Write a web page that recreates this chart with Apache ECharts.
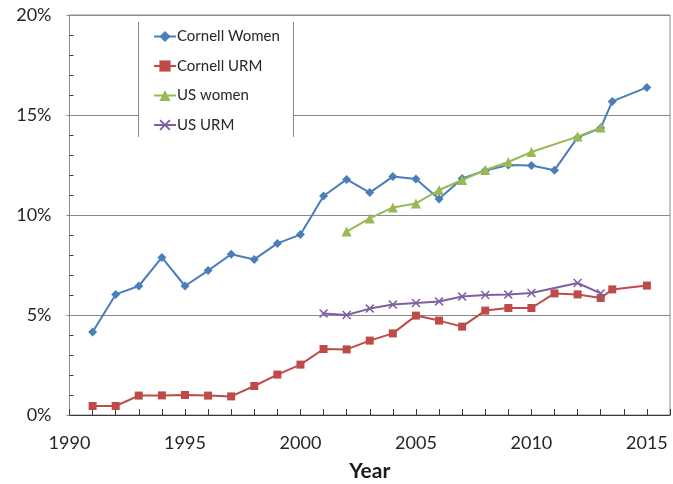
<!DOCTYPE html>
<html>
<head>
<meta charset="utf-8">
<script src="https://cdn.jsdelivr.net/npm/echarts@6/dist/echarts.min.js"></script>
<style>
html,body{margin:0;padding:0;background:#fff;}
#chart{width:673px;height:484px;}
</style>
</head>
<body>
<div id="chart"></div>
<script>
// ---- data ----
const cornellWomenYears = [1991,1992,1993,1994,1995,1996,1997,1998,1999,2000,2001,2002,2003,2004,2005,2006,2007,2008,2009,2010,2011,2012,2013,2013.5,2015];
const cornellWomenVals  = [4.15,6.03,6.45,7.88,6.45,7.22,8.04,7.78,8.58,9.02,10.95,11.78,11.12,11.92,11.8,10.8,11.83,12.22,12.5,12.48,12.24,13.88,14.35,15.68,16.38];

const cornellURMYears = [1991,1992,1993,1994,1995,1996,1997,1998,1999,2000,2001,2002,2003,2004,2005,2006,2007,2008,2009,2010,2011,2012,2013,2013.5,2015];
const cornellURMVals  = [0.45,0.45,0.97,0.98,1.0,0.97,0.93,1.45,2.02,2.52,3.3,3.28,3.72,4.08,4.97,4.72,4.42,5.22,5.35,5.35,6.08,6.03,5.85,6.28,6.47];

const usWomenYears = [2002,2003,2004,2005,2006,2007,2008,2009,2010,2012,2013];
const usWomenVals  = [9.17,9.83,10.38,10.58,11.25,11.75,12.25,12.65,13.15,13.92,14.37];

const usURMYears = [2001,2002,2003,2004,2005,2006,2007,2008,2009,2010,2012,2013];
const usURMVals  = [5.08,5.0,5.32,5.52,5.6,5.68,5.92,6.0,6.02,6.1,6.6,6.08];

const xTickLabels = [1990,1995,2000,2005,2010,2015];
const yTickLabels = [0,5,10,15,20];

const seriesNames = ['Cornell Women','Cornell URM','US women','US URM'];
const seriesColors = ['#4A7EBB','#BE4B48','#98B954','#7D60A0'];

function pairs(xs, ys){ return xs.map((x,i)=>[x, ys[i]]); }

const xMark = 'path://M0,1.2L1.2,0L5,3.8L8.8,0L10,1.2L6.2,5L10,8.8L8.8,10L5,6.2L1.2,10L0,8.8L3.8,5Z';

const font = 'Lato, "Liberation Sans", sans-serif';
const chart = echarts.init(document.getElementById('chart'), null, {renderer:'canvas'});
chart.setOption({
  animation:false,
  backgroundColor:'#fff',
  textStyle:{fontFamily:font},
  grid:{left:69.5, right:3, top:15, bottom:69, outerBoundsMode:'none', containLabel:false,
        show:true, borderColor:'#8a8a8a', borderWidth:1, backgroundColor:'transparent'},
  legend:{
    orient:'vertical', left:139, top:22,
    padding:[7,14,7,14],
    itemWidth:22, itemHeight:14, itemGap:14.5,
    backgroundColor:'#fff',
    textStyle:{fontFamily:font, fontSize:15, lineHeight:14, color:'#262626', padding:[0,0,0,-4]},
    data:seriesNames
  },
  graphic:[
    {type:'line', shape:{x1:138.5,y1:22,x2:138.5,y2:137}, style:{stroke:'#8a8a8a', lineWidth:1}, z:100},
    {type:'line', shape:{x1:293.5,y1:22,x2:293.5,y2:137}, style:{stroke:'#8a8a8a', lineWidth:1}, z:100}
  ],
  xAxis:{
    type:'value', min:1990, max:2016, interval:1,
    axisLine:{show:true, lineStyle:{color:'#3a3a3a', width:1}},
    axisTick:{show:true, inside:true, length:6, lineStyle:{color:'#3a3a3a'}},
    splitLine:{show:false},
    axisLabel:{
      margin:19, fontSize:18, color:'#262626', fontFamily:font,
      formatter:function(v){ return xTickLabels.indexOf(v) >= 0 ? String(v) : ''; }
    },
    name:'Year', nameLocation:'middle', nameGap:46,
    nameTextStyle:{fontSize:21, fontWeight:'bold', color:'#1a1a1a', fontFamily:font}
  },
  yAxis:{
    type:'value', min:0, max:20, interval:5,
    axisLine:{show:true, lineStyle:{color:'#8a8a8a'}},
    axisTick:{show:true, inside:false, length:3, lineStyle:{color:'#8a8a8a'}},
    minorTick:{show:true, splitNumber:5, length:-4, lineStyle:{color:'#3a3a3a'}},
    splitLine:{show:true, lineStyle:{color:'#8a8a8a', width:1}},
    axisLabel:{
      margin:18, fontSize:18, color:'#262626', fontFamily:font,
      formatter:function(v){ return yTickLabels.indexOf(v) >= 0 ? v + '%' : ''; }
    }
  },
  series:[
    {name:seriesNames[0], type:'line', data:pairs(cornellWomenYears, cornellWomenVals),
     symbol:'diamond', symbolSize:9, color:seriesColors[0], lineStyle:{width:2}, z:3},
    {name:seriesNames[1], type:'line', data:pairs(cornellURMYears, cornellURMVals),
     symbol:'rect', symbolSize:8, color:seriesColors[1], lineStyle:{width:2}, z:3},
    {name:seriesNames[2], type:'line', data:pairs(usWomenYears, usWomenVals),
     symbol:'triangle', symbolSize:10, color:seriesColors[2], lineStyle:{width:2}, z:4},
    {name:seriesNames[3], type:'line', data:pairs(usURMYears, usURMVals),
     symbol:xMark, symbolSize:9, color:seriesColors[3], lineStyle:{width:2}, z:4}
  ]
});
</script>
</body>
</html>
